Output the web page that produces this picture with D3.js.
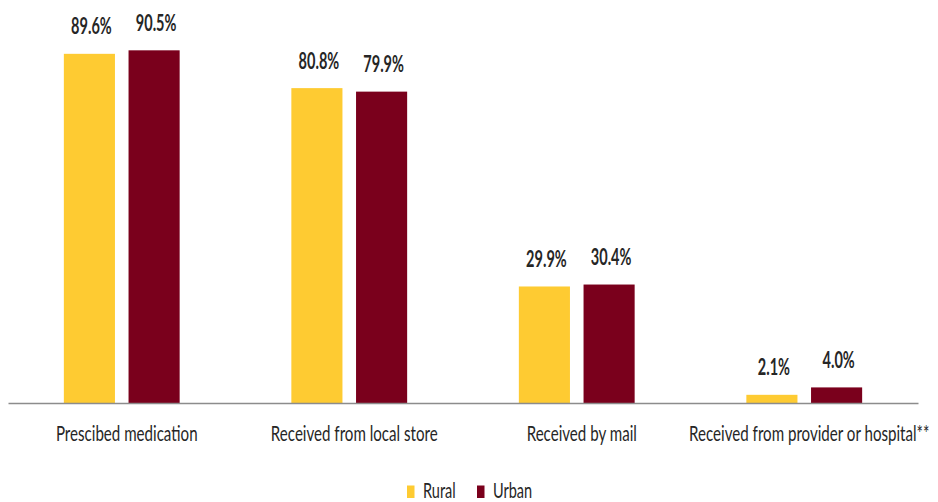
<!DOCTYPE html>
<html>
<head>
<meta charset="utf-8">
<script src="https://cdn.jsdelivr.net/npm/d3@7"></script>
<style>
  html, body { margin: 0; padding: 0; background: #ffffff; }
  svg { display: block; }
  text { font-family: Lato, "Open Sans", sans-serif; fill: #262626; }
</style>
</head>
<body>
<svg id="chart" width="938" height="502"></svg>
<script>
const categories = ["Prescibed medication", "Received from local store", "Received by mail", "Received from provider or hospital**"];
const seriesNames = ["Rural", "Urban"];
const ruralValues = [89.6, 80.8, 29.9, 2.1];
const urbanValues = [90.5, 79.9, 30.4, 4.0];
const seriesColors = ["#FECB32", "#7A001C"];

const W = 938, H = 502;
const svg = d3.select("#chart");

const seriesValues = [ruralValues, urbanValues];
const data = categories.map((c, i) => ({
  category: c,
  values: seriesNames.map((s, j) => ({ series: s, value: seriesValues[j][i], color: seriesColors[j] }))
}));

const x0 = d3.scaleBand().domain(categories).range([8, 918]).paddingInner(0.491).paddingOuter(0.2455);
const x1 = d3.scaleBand().domain(seriesNames).range([0, x0.bandwidth()]).paddingInner(0.21);
const y = d3.scaleLinear().domain([0, 100]).range([403, 13.3]);

function scaledText(sel, sx) {
  return sel.attr("transform", function() {
    const d = d3.select(this);
    return `translate(${d.attr("data-x")},${d.attr("data-y")}) scale(${sx},1)`;
  });
}

const groups = svg.selectAll("g.grp").data(data).join("g")
  .attr("class", "grp")
  .attr("transform", d => `translate(${x0(d.category)},0)`);

groups.selectAll("rect").data(d => d.values).join("rect")
  .attr("x", d => x1(d.series))
  .attr("y", d => y(d.value))
  .attr("width", x1.bandwidth())
  .attr("height", d => y(0) - y(d.value))
  .attr("fill", d => d.color);

groups.selectAll("text.val").data(d => d.values).join("text")
  .attr("class", "val")
  .attr("text-anchor", "middle")
  .attr("font-size", 22)
  .attr("font-weight", "bold")
  .attr("data-x", d => x1(d.series) + x1.bandwidth() / 2 + 2)
  .attr("data-y", d => y(d.value) - 19.5)
  .text(d => d.value.toFixed(1) + "%")
  .call(scaledText, 0.66);

// axis
const xAxis = d3.axisBottom(x0).tickSize(0).tickPadding(0);
const ax = svg.append("g").attr("transform", `translate(0,${y(0)})`).call(xAxis);
ax.select(".domain").attr("stroke", "#8c8c8c").attr("stroke-width", 1.3);
ax.selectAll(".tick text")
  .attr("font-size", 21)
  .attr("fill", "#262626")
  .attr("font-family", "Lato, 'Open Sans', sans-serif")
  .attr("dy", null)
  .attr("y", null)
  .attr("data-x", 5)
  .attr("data-y", 38)
  .call(scaledText, 0.72);

// legend
const legend = svg.append("g");
const legendX = d3.scaleOrdinal().domain(seriesNames).range([407, 477]);
const lg = legend.selectAll("g").data(seriesNames).join("g")
  .attr("transform", d => `translate(${legendX(d)},0)`);
lg.append("rect").attr("x", 0).attr("y", 485.5).attr("width", 7.5).attr("height", 12.5)
  .attr("fill", (d, i) => seriesColors[i]);
lg.append("text")
  .attr("font-size", 22)
  .attr("data-x", 16)
  .attr("data-y", 498)
  .text(d => d)
  .call(scaledText, 0.66);
</script>
</body>
</html>
